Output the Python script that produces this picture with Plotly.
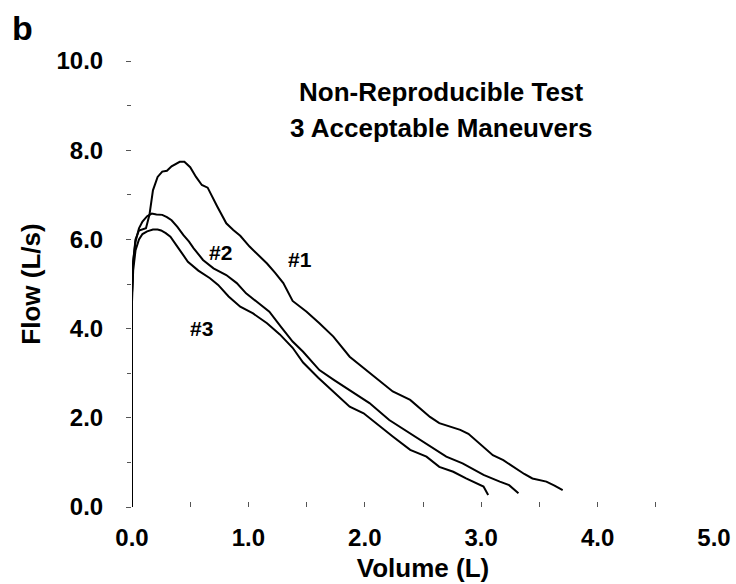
import plotly.graph_objects as go

# Flow-volume curves (Volume in L, Flow in L/s)
vol_1 = [0, 0, 0.01, 0.03, 0.06, 0.09, 0.12, 0.15, 0.18, 0.22, 0.26, 0.30, 0.34, 0.41, 0.45, 0.50,
         0.55, 0.60, 0.65, 0.73, 0.81, 0.87, 0.93, 1.01, 1.08, 1.16, 1.23, 1.30, 1.38, 1.50, 1.61,
         1.73, 1.87, 2.01, 2.16, 2.24, 2.39, 2.47, 2.56, 2.64, 2.73, 2.82, 2.89, 2.96, 3.02, 3.10,
         3.19, 3.30, 3.37, 3.44, 3.56, 3.63, 3.70]
flow_1 = [0, 4.8, 5.5, 6.0, 6.2, 6.22, 6.25, 6.55, 7.1, 7.4, 7.52, 7.54, 7.64, 7.74, 7.74, 7.62,
          7.40, 7.22, 7.16, 6.75, 6.36, 6.21, 6.08, 5.84, 5.66, 5.46, 5.25, 5.02, 4.62, 4.38, 4.12,
          3.82, 3.37, 3.07, 2.77, 2.59, 2.40, 2.22, 2.02, 1.88, 1.80, 1.73, 1.64, 1.48, 1.35, 1.16,
          1.05, 0.85, 0.74, 0.64, 0.57, 0.48, 0.38]

vol_2 = [0, 0, 0.01, 0.03, 0.06, 0.09, 0.13, 0.17, 0.21, 0.26, 0.30, 0.34, 0.39, 0.44, 0.49, 0.53,
         0.61, 0.70, 0.81, 0.90, 0.98, 1.07, 1.18, 1.28, 1.38, 1.47, 1.61, 1.74, 1.87, 2.04, 2.21,
         2.39, 2.56, 2.70, 2.84, 3.02, 3.16, 3.24, 3.32]
flow_2 = [0, 4.8, 5.5, 5.95, 6.25, 6.4, 6.52, 6.58, 6.56, 6.55, 6.50, 6.43, 6.28, 6.10, 5.95, 5.80,
          5.54, 5.35, 5.20, 5.02, 4.79, 4.60, 4.38, 4.04, 3.71, 3.48, 3.07, 2.84, 2.62, 2.33, 1.95,
          1.65, 1.35, 1.13, 0.98, 0.72, 0.57, 0.49, 0.31]

vol_3 = [0, 0, 0.01, 0.03, 0.06, 0.09, 0.13, 0.18, 0.22, 0.25, 0.29, 0.33, 0.40, 0.48, 0.57, 0.67,
         0.74, 0.83, 0.93, 1.04, 1.16, 1.27, 1.38, 1.47, 1.60, 1.73, 1.87, 1.99, 2.13, 2.24, 2.39,
         2.53, 2.64, 2.76, 2.87, 2.96, 3.02, 3.06]
flow_3 = [0, 4.6, 5.3, 5.75, 6.0, 6.12, 6.18, 6.22, 6.22, 6.20, 6.14, 6.06, 5.80, 5.50, 5.30, 5.13,
          4.98, 4.72, 4.49, 4.34, 4.12, 3.87, 3.57, 3.24, 2.90, 2.58, 2.25, 2.10, 1.80, 1.58, 1.28,
          1.13, 0.90, 0.79, 0.64, 0.53, 0.46, 0.27]

curve_labels = ["#1", "#2", "#3"]
label_vol = [1.44, 0.76, 0.60]
label_flow = [5.54, 5.70, 4.0]

x_ticks = [0, 1, 2, 3, 4, 5]
y_ticks = [0, 2, 4, 6, 8, 10]

FONT = "Liberation Sans, Arial, sans-serif"

fig = go.Figure()
for vx, fy, name in [(vol_1, flow_1, "#1"), (vol_2, flow_2, "#2"), (vol_3, flow_3, "#3")]:
    fig.add_trace(go.Scatter(x=vx, y=fy, mode="lines", name=name,
                             line=dict(color="black", width=2)))

for txt, lx, ly in zip(curve_labels, label_vol, label_flow):
    fig.add_annotation(x=lx, y=ly, text=txt, showarrow=False,
                       font=dict(family=FONT, size=21, color="black", weight="bold"))

# title lines and panel letter
fig.add_annotation(x=0.531, y=0.930, xref="paper", yref="paper", text="Non-Reproducible Test",
                   xanchor="center", yanchor="middle", showarrow=False,
                   font=dict(family=FONT, size=26, color="black", weight="bold"))
fig.add_annotation(x=0.531, y=0.850, xref="paper", yref="paper", text="3 Acceptable Maneuvers",
                   xanchor="center", yanchor="middle", showarrow=False,
                   font=dict(family=FONT, size=26, color="black", weight="bold"))
fig.add_annotation(x=-0.189, y=1.074, xref="paper", yref="paper", text="b",
                   xanchor="center", yanchor="middle", showarrow=False,
                   font=dict(family=FONT, size=34, color="black", weight="bold"))

fig.update_xaxes(range=[0, 5], tickvals=x_ticks, ticktext=[f"{v:.1f}" for v in x_ticks],
                 showgrid=False, zeroline=False, showline=False,
                 ticks="inside", ticklen=5, tickcolor="#555", tickwidth=1,
                 minor=dict(dtick=0.5, ticks="inside", ticklen=5, tickcolor="#555"),
                 ticklabelstandoff=14,
                 tickfont=dict(family=FONT, size=24, color="black", weight="bold"),
                 title=dict(text="Volume (L)", standoff=8,
                            font=dict(family=FONT, size=26, color="black", weight="bold")))
fig.update_yaxes(range=[0, 10], tickvals=y_ticks, ticktext=[f"{v:.1f}" for v in y_ticks],
                 showgrid=False, zeroline=False, showline=False,
                 ticks="outside", ticklen=5, tickcolor="#555", tickwidth=1,
                 minor=dict(dtick=1, ticks="outside", ticklen=4, tickcolor="#555"),
                 ticklabelstandoff=18,
                 tickfont=dict(family=FONT, size=24, color="black", weight="bold"),
                 title=dict(text="Flow (L/s)", standoff=8,
                            font=dict(family=FONT, size=26, color="black", weight="bold")))

fig.update_layout(width=736, height=584, showlegend=False,
                  plot_bgcolor="white", paper_bgcolor="white",
                  margin=dict(l=132, r=22, t=61, b=77, autoexpand=False))

# drop the page's default body margin so the figure sits at the top-left corner
fig.write_html("out.html", config={"displayModeBar": False},
               post_script="document.body.style.margin='0';")
